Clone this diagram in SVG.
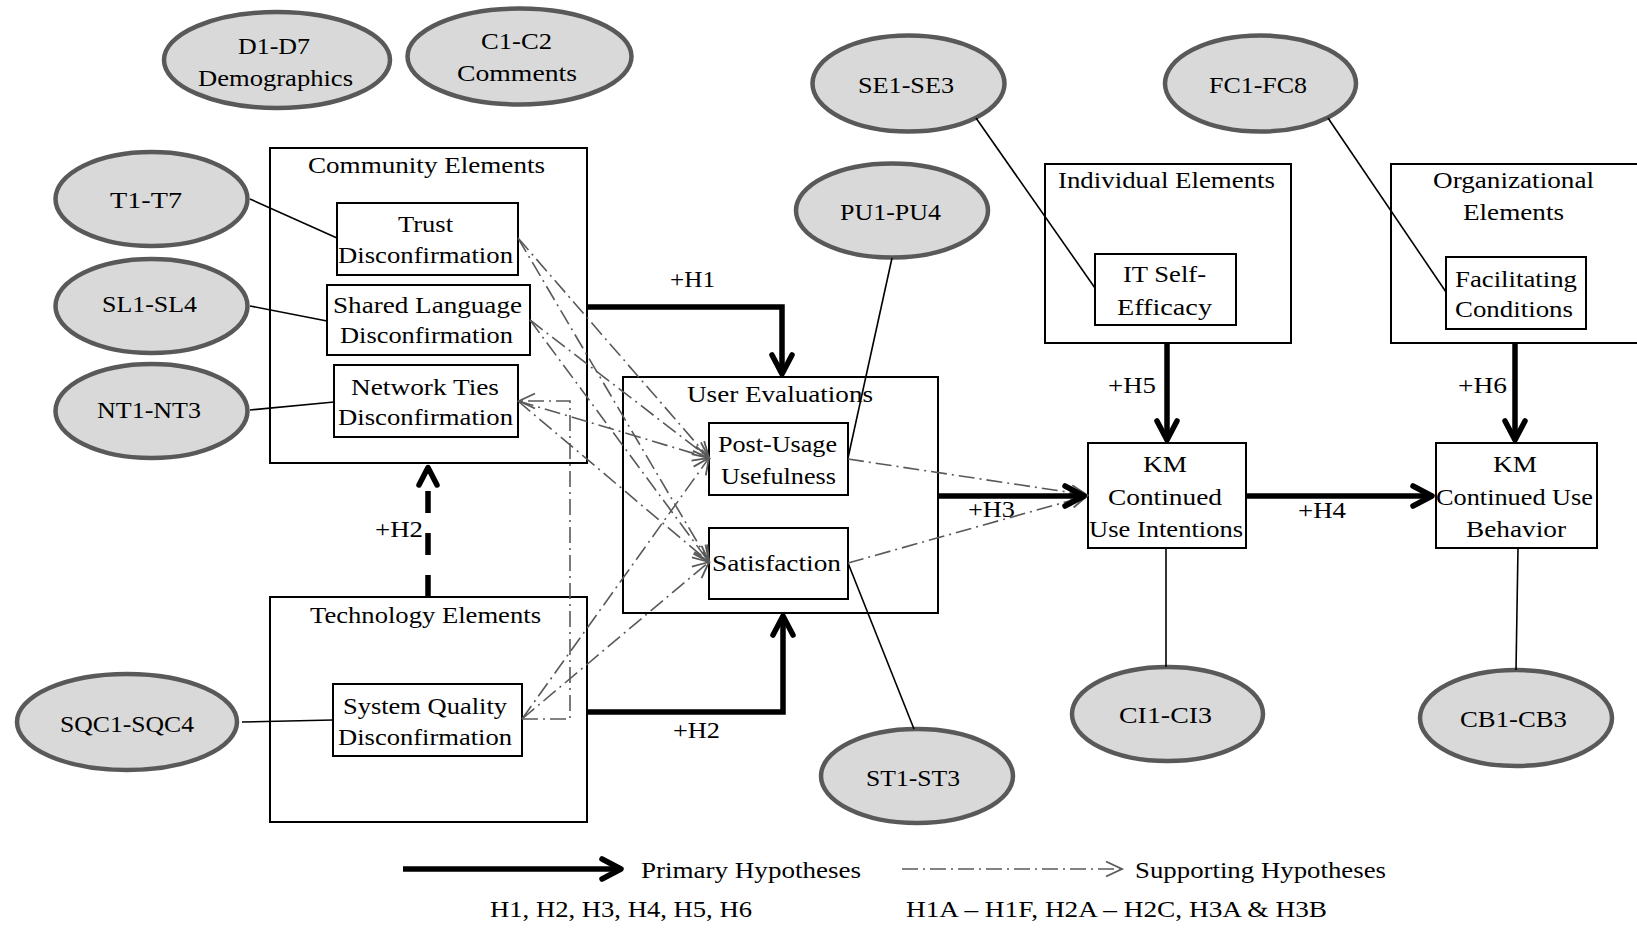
<svg xmlns="http://www.w3.org/2000/svg" width="1637" height="930" viewBox="0 0 1637 930">
  <defs>
    <style>
      .box { fill: #ffffff; stroke: #000000; stroke-width: 2; }
      .item { fill: #d9d9d9; stroke: #595959; stroke-width: 4.5; }
      text { font-family: "Liberation Serif", "Times New Roman", serif; font-size: 23.5px; fill: #000000; text-anchor: middle; }
      .link { fill: none; stroke: #000000; stroke-width: 1.6; }
      .bold { fill: none; stroke: #000000; stroke-width: 5.5; marker-end: url(#head-bold); }
      .support { fill: none; stroke: #595959; stroke-width: 1.6; stroke-dasharray: 16 5 2 5; marker-end: url(#head-thin); }
    </style>
    <marker id="head-bold" markerUnits="userSpaceOnUse" viewBox="-30 -20 40 40" markerWidth="40" markerHeight="40" refX="0" refY="0" orient="auto" overflow="visible">
      <path d="M-19,-10 L0,0 L-19,10" fill="none" stroke="#000000" stroke-width="5.5" stroke-linecap="round" stroke-linejoin="round"/>
    </marker>
    <marker id="head-thin" markerUnits="userSpaceOnUse" viewBox="-24 -12 28 24" markerWidth="28" markerHeight="24" refX="0" refY="0" orient="auto" overflow="visible">
      <path d="M-16,-7.5 L0,0 L-16,7.5" fill="none" stroke="#595959" stroke-width="1.8"/>
    </marker>
  </defs>

  <rect width="1637" height="930" fill="#ffffff"/>

  <!-- construct groups -->
  <g id="community-elements">
    <rect class="box" x="270" y="148" width="317" height="315"/>
    <text x="426.5" y="173" textLength="237" lengthAdjust="spacingAndGlyphs">Community Elements</text>
  </g>
  <g id="technology-elements">
    <rect class="box" x="270" y="597" width="317" height="225"/>
    <text x="425.5" y="623" textLength="231" lengthAdjust="spacingAndGlyphs">Technology Elements</text>
  </g>
  <g id="user-evaluations">
    <rect class="box" x="623" y="377" width="315" height="236"/>
    <text x="780" y="402" textLength="186" lengthAdjust="spacingAndGlyphs">User Evaluations</text>
  </g>
  <g id="individual-elements">
    <rect class="box" x="1045" y="164" width="246" height="179"/>
    <text x="1166.5" y="188" textLength="217" lengthAdjust="spacingAndGlyphs">Individual Elements</text>
  </g>
  <g id="organizational-elements">
    <rect class="box" x="1391" y="164" width="260" height="179"/>
    <text x="1513.5" y="188" textLength="161" lengthAdjust="spacingAndGlyphs">Organizational</text>
    <text x="1513.5" y="220" textLength="101" lengthAdjust="spacingAndGlyphs">Elements</text>
  </g>

  <!-- constructs -->
  <g id="trust">
    <rect class="box" x="337" y="203" width="181" height="72"/>
    <text x="425.5" y="232" textLength="55" lengthAdjust="spacingAndGlyphs">Trust</text>
    <text x="425.5" y="263" textLength="175" lengthAdjust="spacingAndGlyphs">Disconfirmation</text>
  </g>
  <g id="shared-language">
    <rect class="box" x="327" y="285" width="203" height="70"/>
    <text x="427.5" y="313" textLength="189" lengthAdjust="spacingAndGlyphs">Shared Language</text>
    <text x="426.5" y="343" textLength="173" lengthAdjust="spacingAndGlyphs">Disconfirmation</text>
  </g>
  <g id="network-ties">
    <rect class="box" x="334" y="365" width="184" height="72"/>
    <text x="425" y="395" textLength="148" lengthAdjust="spacingAndGlyphs">Network  Ties</text>
    <text x="425.5" y="425" textLength="175" lengthAdjust="spacingAndGlyphs">Disconfirmation</text>
  </g>
  <g id="system-quality">
    <rect class="box" x="333" y="684" width="189" height="72"/>
    <text x="425" y="714" textLength="164" lengthAdjust="spacingAndGlyphs">System Quality</text>
    <text x="425" y="745" textLength="174" lengthAdjust="spacingAndGlyphs">Disconfirmation</text>
  </g>
  <g id="post-usage-usefulness">
    <rect class="box" x="709" y="423" width="139" height="72"/>
    <text x="777.5" y="452" textLength="119" lengthAdjust="spacingAndGlyphs">Post-Usage</text>
    <text x="778.5" y="484" textLength="115" lengthAdjust="spacingAndGlyphs">Usefulness</text>
  </g>
  <g id="satisfaction">
    <rect class="box" x="709" y="528" width="139" height="71"/>
    <text x="776.5" y="571" textLength="129" lengthAdjust="spacingAndGlyphs">Satisfaction</text>
  </g>
  <g id="it-self-efficacy">
    <rect class="box" x="1095" y="254" width="141" height="71"/>
    <text x="1164.5" y="282" textLength="83" lengthAdjust="spacingAndGlyphs">IT Self-</text>
    <text x="1164.5" y="315" textLength="95" lengthAdjust="spacingAndGlyphs">Efficacy</text>
  </g>
  <g id="facilitating-conditions">
    <rect class="box" x="1446" y="257" width="140" height="72"/>
    <text x="1516" y="287" textLength="122" lengthAdjust="spacingAndGlyphs">Facilitating</text>
    <text x="1514" y="317" textLength="118" lengthAdjust="spacingAndGlyphs">Conditions</text>
  </g>
  <g id="km-continued-use-intentions">
    <rect class="box" x="1088" y="443" width="158" height="105"/>
    <text x="1165" y="472" textLength="44" lengthAdjust="spacingAndGlyphs">KM</text>
    <text x="1165" y="505" textLength="114" lengthAdjust="spacingAndGlyphs">Continued</text>
    <text x="1166" y="537" textLength="154" lengthAdjust="spacingAndGlyphs">Use Intentions</text>
  </g>
  <g id="km-continued-use-behavior">
    <rect class="box" x="1436" y="443" width="161" height="105"/>
    <text x="1515" y="472" textLength="44" lengthAdjust="spacingAndGlyphs">KM</text>
    <text x="1514.5" y="505" textLength="157" lengthAdjust="spacingAndGlyphs">Continued Use</text>
    <text x="1516" y="537" textLength="100" lengthAdjust="spacingAndGlyphs">Behavior</text>
  </g>

  <!-- measurement items -->
  <g id="demographics">
    <ellipse class="item" cx="277" cy="60" rx="113" ry="48"/>
    <text x="274" y="54" textLength="72" lengthAdjust="spacingAndGlyphs">D1-D7</text>
    <text x="275.5" y="86" textLength="155" lengthAdjust="spacingAndGlyphs">Demographics</text>
  </g>
  <g id="comments">
    <ellipse class="item" cx="519.5" cy="56.5" rx="112" ry="48"/>
    <text x="516.5" y="49" textLength="71" lengthAdjust="spacingAndGlyphs">C1-C2</text>
    <text x="517" y="81" textLength="120" lengthAdjust="spacingAndGlyphs">Comments</text>
  </g>
  <g id="t-items">
    <ellipse class="item" cx="151.5" cy="199" rx="96" ry="47"/>
    <text x="146" y="208" textLength="72" lengthAdjust="spacingAndGlyphs">T1-T7</text>
  </g>
  <g id="sl-items">
    <ellipse class="item" cx="151.5" cy="306" rx="96" ry="47"/>
    <text x="149.5" y="312" textLength="95" lengthAdjust="spacingAndGlyphs">SL1-SL4</text>
  </g>
  <g id="nt-items">
    <ellipse class="item" cx="151.5" cy="411" rx="96" ry="47"/>
    <text x="149" y="418" textLength="104" lengthAdjust="spacingAndGlyphs">NT1-NT3</text>
  </g>
  <g id="sqc-items">
    <ellipse class="item" cx="127" cy="722" rx="110" ry="48"/>
    <text x="127" y="732" textLength="134" lengthAdjust="spacingAndGlyphs">SQC1-SQC4</text>
  </g>
  <g id="pu-items">
    <ellipse class="item" cx="892" cy="210.5" rx="96" ry="47"/>
    <text x="890.5" y="220" textLength="101" lengthAdjust="spacingAndGlyphs">PU1-PU4</text>
  </g>
  <g id="st-items">
    <ellipse class="item" cx="917" cy="776" rx="96" ry="47"/>
    <text x="913" y="786" textLength="94" lengthAdjust="spacingAndGlyphs">ST1-ST3</text>
  </g>
  <g id="se-items">
    <ellipse class="item" cx="908.5" cy="83.5" rx="96" ry="48"/>
    <text x="906" y="93" textLength="96" lengthAdjust="spacingAndGlyphs">SE1-SE3</text>
  </g>
  <g id="fc-items">
    <ellipse class="item" cx="1260.5" cy="83.5" rx="95.5" ry="48"/>
    <text x="1258" y="93" textLength="98" lengthAdjust="spacingAndGlyphs">FC1-FC8</text>
  </g>
  <g id="ci-items">
    <ellipse class="item" cx="1167.5" cy="714" rx="95.5" ry="47"/>
    <text x="1165.5" y="723" textLength="93" lengthAdjust="spacingAndGlyphs">CI1-CI3</text>
  </g>
  <g id="cb-items">
    <ellipse class="item" cx="1516" cy="718" rx="96" ry="48"/>
    <text x="1513.5" y="727" textLength="107" lengthAdjust="spacingAndGlyphs">CB1-CB3</text>
  </g>

  <g id="connectors">
    <!-- item links -->
    <line class="link" x1="250" y1="199" x2="337" y2="238"/>
    <line class="link" x1="250" y1="306" x2="327" y2="321"/>
    <line class="link" x1="250" y1="410" x2="334" y2="402"/>
    <line class="link" x1="242" y1="722" x2="333" y2="720"/>
    <line class="link" x1="892" y1="258" x2="848" y2="458"/>
    <line class="link" x1="848" y1="563" x2="914" y2="729"/>
    <line class="link" x1="976" y1="118" x2="1095" y2="288"/>
    <line class="link" x1="1328" y1="118" x2="1446" y2="292"/>
    <line class="link" x1="1166" y1="548" x2="1166" y2="667"/>
    <line class="link" x1="1518" y1="548" x2="1516" y2="670"/>

    <!-- supporting hypotheses -->
    <path class="support" d="M518,238 L709,458"/>
    <path class="support" d="M518,238 L709,562"/>
    <path class="support" d="M530,320 L709,458"/>
    <path class="support" d="M530,320 L709,562"/>
    <path class="support" d="M518,401 L709,458"/>
    <path class="support" d="M518,401 L709,562"/>
    <path class="support" d="M522,719 L709,458"/>
    <path class="support" d="M522,719 L709,562"/>
    <path class="support" d="M522,719 H570 V401 H519"/>
    <path class="support" d="M848,459 L1087,495"/>
    <path class="support" d="M848,563 L1087,496"/>

    <!-- primary hypotheses -->
    <path class="bold" d="M587,307 H782 V374"/>
    <path class="bold" d="M587,712 H783 V616"/>
    <path class="bold" d="M938,496 H1084"/>
    <path class="bold" d="M1246,496 H1432"/>
    <path class="bold" d="M1167,343 V440"/>
    <path class="bold" d="M1515,343 V440"/>
    <path d="M428,597 V490" fill="none" stroke="#000000" stroke-width="5.5" stroke-dasharray="22 20"/>
    <path d="M419,485 L428,467.5 L437,485" fill="none" stroke="#000000" stroke-width="5.5" stroke-linecap="round" stroke-linejoin="round"/>

    <text x="692.5" y="287" textLength="45" lengthAdjust="spacingAndGlyphs">+H1</text>
    <text x="399" y="537" textLength="48" lengthAdjust="spacingAndGlyphs">+H2</text>
    <text x="696.5" y="738" textLength="47" lengthAdjust="spacingAndGlyphs">+H2</text>
    <text x="991.5" y="517" textLength="47" lengthAdjust="spacingAndGlyphs">+H3</text>
    <text x="1322" y="518" textLength="48" lengthAdjust="spacingAndGlyphs">+H4</text>
    <text x="1132" y="393" textLength="48" lengthAdjust="spacingAndGlyphs">+H5</text>
    <text x="1482.5" y="393" textLength="49" lengthAdjust="spacingAndGlyphs">+H6</text>
  </g>

  <g id="legend">
    <path class="bold" d="M403,869 H621"/>
    <text x="641" y="878" textLength="220" lengthAdjust="spacingAndGlyphs" style="text-anchor:start">Primary Hypotheses</text>
    <path class="support" d="M902,869 H1122"/>
    <text x="1135" y="878" textLength="251" lengthAdjust="spacingAndGlyphs" style="text-anchor:start">Supporting Hypotheses</text>
    <text x="490" y="917" textLength="262" lengthAdjust="spacingAndGlyphs" style="text-anchor:start">H1, H2, H3, H4, H5, H6</text>
    <text x="906" y="917" textLength="421" lengthAdjust="spacingAndGlyphs" style="text-anchor:start">H1A – H1F, H2A – H2C, H3A &amp; H3B</text>
  </g>
</svg>
